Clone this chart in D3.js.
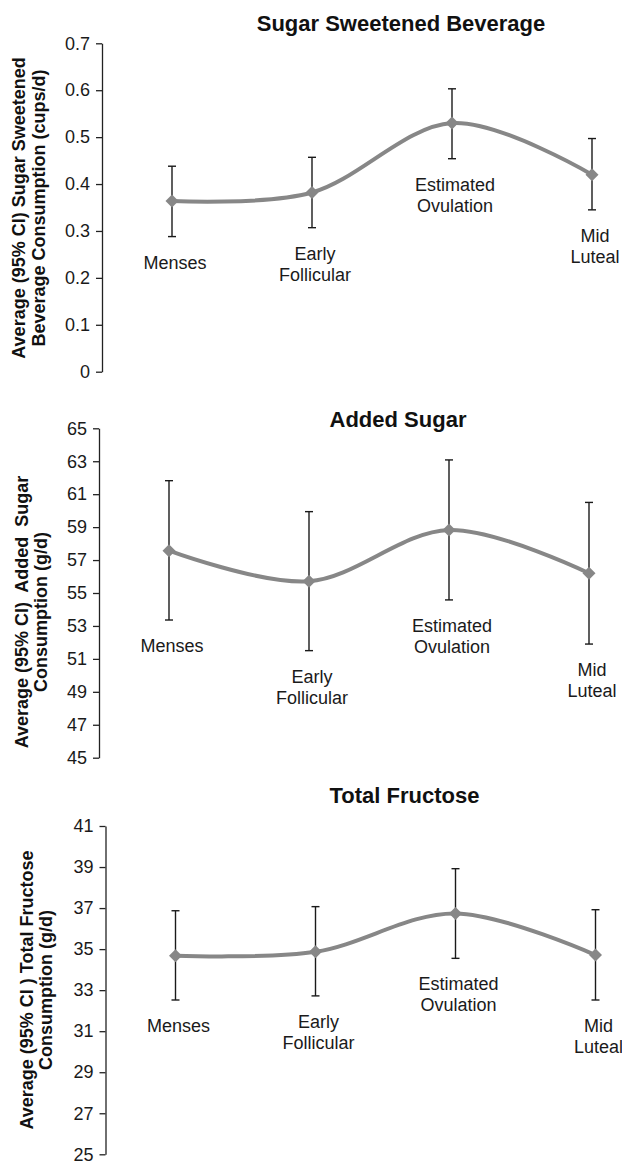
<!DOCTYPE html>
<html>
<head>
<meta charset="utf-8">
<script src="https://cdn.jsdelivr.net/npm/d3@7"></script>
<style>
  body { margin: 0; background: #fff; }
  svg { display: block; font-family: 'Liberation Sans', Arial, sans-serif; }
  text { white-space: pre; }
</style>
</head>
<body>
<svg id="chart" width="622" height="1161"></svg>
<script>
'use strict';

// menstrual cycle phases (label lines)
const phases = [
  ['Menses'],
  ['Early', 'Follicular'],
  ['Estimated', 'Ovulation'],
  ['Mid', 'Luteal'],
];

// sugar sweetened beverage (cups/d)
const ssbMean = [0.364, 0.382, 0.53, 0.42];
const ssbLower = [0.288, 0.307, 0.454, 0.345];
const ssbUpper = [0.438, 0.457, 0.603, 0.497];
const ssbTicks = [0, 0.1, 0.2, 0.3, 0.4, 0.5, 0.6, 0.7];

// added sugar (g/d)
const sugarMean = [57.57, 55.71, 58.83, 56.2];
const sugarLower = [53.36, 51.5, 54.58, 51.9];
const sugarUpper = [61.82, 59.94, 63.08, 60.5];
const sugarTicks = [45, 47, 49, 51, 53, 55, 57, 59, 61, 63, 65];

// total fructose (g/d)
const fructMean = [34.68, 34.87, 36.74, 34.71];
const fructLower = [32.52, 32.72, 34.55, 32.52];
const fructUpper = [36.87, 37.07, 38.92, 36.92];
const fructTicks = [25, 27, 29, 31, 33, 35, 37, 39, 41];

const svg = d3.select('#chart');

const lineColor = '#878787';

function drawPanel(opt) {
  const g = svg.append('g');
  const phaseIdx = phases.map((d, i) => i);

  const x = d3
    .scaleBand()
    .domain(phaseIdx)
    .range([opt.left, opt.left + 560]);

  const y = d3
    .scaleLinear()
    .domain(d3.extent(opt.ticks))
    .range([opt.bottom, opt.top]);

  const cx = (i) => x(i) + x.bandwidth() / 2;

  // y axis
  g.append('g')
    .attr('transform', 'translate(' + opt.left + ',0)')
    .call(
      d3
        .axisLeft(y)
        .tickValues(opt.ticks)
        .tickFormat(opt.format)
        .tickSize(6)
        .tickPadding(6)
        .tickSizeOuter(0)
    )
    .call((a) => {
      a.select('.domain').attr('stroke', '#222').attr('stroke-width', 1.3);
      a.selectAll('line').attr('stroke', '#222').attr('stroke-width', 1.3);
      a.selectAll('text')
        .attr('fill', '#1a1a1a')
        .style('font-size', '18px')
        .style('font-family', "'Liberation Sans', Arial, sans-serif");
    });

  // title
  g.append('text')
    .attr('x', opt.left + 299)
    .attr('y', opt.titleY)
    .attr('text-anchor', 'middle')
    .style('font-size', '22px')
    .style('font-weight', 'bold')
    .attr('fill', '#111')
    .text(opt.title);

  // y axis title (two rotated lines)
  const yt = g
    .append('text')
    .attr('transform', 'translate(0,' + opt.ytCenter + ') rotate(-90)')
    .attr('text-anchor', 'middle')
    .style('font-size', '18px')
    .style('font-weight', 'bold')
    .attr('fill', '#111');
  opt.yTitle.forEach((line, i) => {
    yt.append('tspan').attr('x', 0).attr('y', opt.ytBase[i]).text(line);
  });

  // error bars
  const bars = g
    .selectAll('.err')
    .data(phaseIdx)
    .enter()
    .append('g')
    .attr('class', 'err')
    .attr('stroke', '#1a1a1a')
    .attr('stroke-width', 1.4);
  bars
    .append('line')
    .attr('x1', cx)
    .attr('x2', cx)
    .attr('y1', (i) => y(opt.lower[i]))
    .attr('y2', (i) => y(opt.upper[i]));
  bars
    .append('line')
    .attr('x1', (i) => cx(i) - 4)
    .attr('x2', (i) => cx(i) + 4)
    .attr('y1', (i) => y(opt.upper[i]))
    .attr('y2', (i) => y(opt.upper[i]));
  bars
    .append('line')
    .attr('x1', (i) => cx(i) - 4)
    .attr('x2', (i) => cx(i) + 4)
    .attr('y1', (i) => y(opt.lower[i]))
    .attr('y2', (i) => y(opt.lower[i]));

  // smoothed line
  const line = d3
    .line()
    .x((i) => cx(i))
    .y((i) => y(opt.mean[i]))
    .curve(d3.curveCardinal.tension(0));

  g.append('path')
    .attr('d', line(phaseIdx))
    .attr('fill', 'none')
    .attr('stroke', lineColor)
    .attr('stroke-width', 4);

  // diamond markers
  g.selectAll('.marker')
    .data(phaseIdx)
    .enter()
    .append('path')
    .attr('class', 'marker')
    .attr('d', 'M0,-6.5L6.5,0L0,6.5L-6.5,0Z')
    .attr('transform', (i) => 'translate(' + cx(i) + ',' + y(opt.mean[i]) + ')')
    .attr('fill', lineColor);

  // phase labels below the lower CI
  const labels = g
    .selectAll('.phase')
    .data(phaseIdx)
    .enter()
    .append('text')
    .attr('class', 'phase')
    .attr('text-anchor', 'middle')
    .style('font-size', '18px')
    .attr('fill', '#1a1a1a');
  labels.each(function(i) {
    phases[i].forEach((word, k) => {
      d3.select(this)
        .append('tspan')
        .attr('x', cx(i) + 3)
        .attr('y', y(opt.lower[i]) + 32 + k * 21)
        .text(word);
    });
  });
}

drawPanel({
  title: 'Sugar Sweetened Beverage',
  yTitle: ['Average (95% CI) Sugar Sweetened', 'Beverage Consumption (cups/d)'],
  mean: ssbMean,
  lower: ssbLower,
  upper: ssbUpper,
  ticks: ssbTicks,
  format: (d) => (d === 0 ? '0' : d3.format('.1f')(d)),
  left: 102,
  top: 43.3,
  bottom: 371.7,
  titleY: 31,
  ytBase: [25, 45],
  ytCenter: 208,
});

drawPanel({
  title: 'Added Sugar',
  yTitle: ['Average (95% CI)  Added  Sugar', 'Consumption (g/d)'],
  mean: sugarMean,
  lower: sugarLower,
  upper: sugarUpper,
  ticks: sugarTicks,
  format: d3.format('d'),
  left: 99,
  top: 428.3,
  bottom: 757.7,
  titleY: 427,
  ytBase: [28, 47],
  ytCenter: 612,
});

drawPanel({
  title: 'Total Fructose',
  yTitle: ['Average (95% CI ) Total Fructose', 'Consumption (g/d)'],
  mean: fructMean,
  lower: fructLower,
  upper: fructUpper,
  ticks: fructTicks,
  format: d3.format('d'),
  left: 105.5,
  top: 826,
  bottom: 1154.3,
  titleY: 803,
  ytBase: [33, 52],
  ytCenter: 990,
});
</script>
</body>
</html>
